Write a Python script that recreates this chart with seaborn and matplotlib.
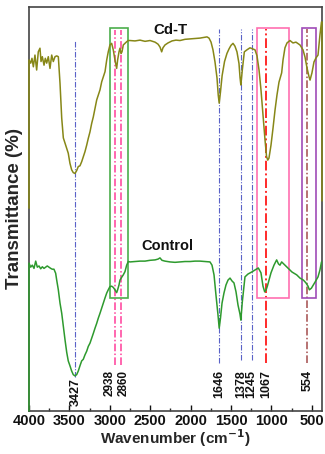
import numpy as np
import pandas as pd
import seaborn as sns
import matplotlib.pyplot as plt
from matplotlib.patches import Rectangle

# ---- data (wavenumber cm^-1, transmittance a.u.) ----
cdt_wn = [4000, 4000, 3979, 3963, 3946, 3926, 3905, 3885, 3864, 3851, 3835, 3814, 3798,
          3781, 3761, 3740, 3719, 3699, 3678, 3657, 3637, 3616, 3595, 3575, 3554, 3533,
          3514, 3493, 3472, 3452, 3431, 3410, 3390, 3369, 3348, 3328, 3307, 3286, 3266,
          3245, 3224, 3204, 3183, 3162, 3142, 3121, 3100, 3080, 3059, 3038, 3019, 2998,
          2977, 2957, 2936, 2915, 2903, 2886, 2874, 2861, 2849, 2833, 2812, 2791, 2771,
          2750, 2688, 2626, 2564, 2502, 2440, 2403, 2379, 2358, 2342, 2317, 2280, 2230,
          2181, 2131, 2069, 2007, 1945, 1884, 1822, 1797, 1772, 1747, 1723, 1698, 1673,
          1658, 1646, 1630, 1610, 1580, 1550, 1525, 1500, 1475, 1451, 1426, 1401, 1388,
          1378, 1360, 1335, 1302, 1265, 1228, 1203, 1178, 1153, 1129, 1104, 1079, 1060,
          1045, 1030, 1005, 980, 955, 931, 906, 873, 856, 832, 807, 770, 733, 696, 646,
          609, 584, 559, 534, 522, 498, 473, 448, 423, 399, 380, 374, 374]
cdt_t = [50.2, 86.9, 86.1, 87.3, 85.2, 88.1, 84.4, 88.9, 89.8, 86.5, 87.7, 85.6, 87.3,
         86.1, 87.7, 84.8, 88.1, 86.5, 87.7, 87.9, 87.7, 81.1, 72.5, 67.6, 66.3, 65.0,
         63.8, 61.3, 59.7, 59.0, 58.8, 59.5, 60.5, 60.7, 61.7, 62.9, 64.2, 65.8, 67.5,
         69.1, 71.2, 72.8, 74.9, 77.0, 78.2, 79.5, 81.5, 82.7, 84.0, 86.9, 88.9, 90.6,
         91.0, 89.4, 86.9, 84.8, 86.9, 88.9, 89.8, 88.5, 88.9, 90.6, 91.0, 91.4, 91.7,
         91.7, 91.6, 91.8, 91.5, 91.7, 91.3, 90.8, 90.1, 88.9, 89.9, 90.6, 91.1, 91.6,
         91.8, 91.7, 92.0, 92.1, 92.2, 92.3, 92.5, 92.6, 92.3, 91.3, 89.4, 86.4, 82.4,
         78.2, 76.2, 79.0, 83.0, 86.5, 88.5, 89.6, 90.5, 91.0, 90.3, 88.9, 86.0, 82.5,
         80.7, 84.4, 88.9, 89.4, 89.9, 89.6, 89.4, 87.9, 84.4, 79.5, 73.3, 67.1, 63.0,
         62.1, 62.6, 65.8, 70.0, 74.5, 78.2, 81.4, 83.7, 86.9, 89.9, 91.1, 91.7, 91.1,
         91.3, 90.6, 89.4, 87.6, 84.9, 82.7, 81.9, 83.7, 86.4, 87.4, 88.1, 93.1, 96.3,
         96.3, 52.0]

ctrl_wn = [4000, 4000, 3979, 3959, 3938, 3917, 3897, 3876, 3855, 3835, 3814, 3793, 3774,
           3752, 3731, 3712, 3691, 3670, 3657, 3637, 3616, 3595, 3575, 3554, 3533, 3514,
           3493, 3472, 3452, 3431, 3410, 3390, 3369, 3348, 3328, 3307, 3286, 3266, 3245,
           3224, 3204, 3183, 3162, 3142, 3121, 3100, 3080, 3059, 3038, 3019, 2998, 2977,
           2957, 2936, 2915, 2903, 2886, 2874, 2853, 2833, 2812, 2791, 2771, 2750, 2688,
           2626, 2564, 2502, 2440, 2403, 2379, 2354, 2317, 2255, 2193, 2131, 2069, 2007,
           1945, 1884, 1822, 1760, 1735, 1710, 1686, 1661, 1646, 1630, 1611, 1587, 1562,
           1537, 1512, 1488, 1463, 1438, 1413, 1389, 1378, 1360, 1327, 1290, 1244, 1203,
           1162, 1129, 1104, 1083, 1065, 1050, 1030, 1005, 968, 935, 912, 894, 873, 832,
           795, 745, 687, 646, 604, 572, 547, 530, 505, 460, 423, 399, 380]
ctrl_t = [0.0, 36.6, 35.6, 36.1, 35.3, 37.1, 35.6, 35.9, 35.2, 35.7, 35.3, 35.6, 35.9,
          35.6, 35.3, 35.1, 35.1, 34.1, 32.4, 30.0, 26.7, 24.2, 20.9, 17.6, 14.5, 12.4,
          11.2, 9.9, 9.0, 8.7, 9.0, 9.9, 11.2, 12.4, 12.8, 13.9, 14.8, 16.0, 16.8,
          18.0, 19.2, 20.5, 21.7, 23.0, 24.2, 25.5, 26.7, 28.0, 29.2, 30.0, 30.8, 30.9,
          30.6, 30.0, 29.3, 30.0, 31.2, 32.4, 33.1, 33.7, 34.5, 36.1, 37.0, 36.9, 37.0,
          37.1, 37.1, 37.3, 37.4, 37.6, 37.9, 37.3, 37.1, 36.9, 36.8, 36.9, 37.0, 37.0,
          37.1, 37.1, 37.0, 36.9, 36.1, 33.7, 28.7, 23.8, 20.5, 23.0, 26.7, 29.2, 31.2,
          32.4, 32.9, 32.2, 31.7, 29.5, 26.2, 24.0, 22.5, 27.0, 33.2, 33.9, 34.4, 34.9,
          35.4, 34.2, 30.9, 29.5, 30.0, 30.9, 32.4, 34.2, 36.1, 37.4, 36.4, 36.1, 36.9,
          36.1, 35.4, 34.4, 33.7, 32.9, 32.4, 31.7, 30.9, 30.0, 30.4, 31.9, 33.2, 34.9,
          36.9]

peak_wn = [3427, 2938, 2860, 1646, 1378, 1245, 1067, 554]
peak_labels = ['3427', '2938', '2860', '1646', '1378', '1245', '1067', '554']
label_wn = [3427, 3000, 2830, 1646, 1378, 1245, 1067, 554]
label_size = [9, 8.5, 8.5, 9, 9, 9, 9, 9]
peak_colors = ['#5a62c8', '#ff3d9a', '#ff3d9a', '#5a62c8', '#5a62c8', '#5a62c8', '#ff2a2a', '#a34c4c']
peak_top = [91.8, 94.3, 94.3, 94.6, 94.6, 94.6, 94.6, 94.6]
peak_bottom = [8.4, 11.4, 11.4, 11.9, 12.6, 12.6, 11.9, 11.9]

box_wn = [(3000, 2770), (1182, 778), (625, 448)]
box_colors = ['#4cae4c', '#ff6fb0', '#a04cb8']

# ---- plot ----
sns.set_theme(style='ticks')
plt.rcParams['font.family'] = ['Liberation Sans', 'DejaVu Sans']
plt.rcParams['font.weight'] = 'bold'

fig = plt.figure(figsize=(3.25, 4.54), dpi=100)
ax = fig.add_axes([0.0892, 0.0947, 0.9015, 0.8899])

cdt = pd.DataFrame({'wn': cdt_wn, 'T': cdt_t})
ctrl = pd.DataFrame({'wn': ctrl_wn, 'T': ctrl_t})
sns.lineplot(data=cdt, x='wn', y='T', sort=False, estimator=None, color='#878717',
             lw=1.1, ax=ax, zorder=3, clip_on=False)
sns.lineplot(data=ctrl, x='wn', y='T', sort=False, estimator=None, color='#2e9a2e',
             lw=1.1, ax=ax, zorder=3, clip_on=False)

# peak markers
for wn, lw_, fs, c, top, bot, lab in zip(peak_wn, label_wn, label_size, peak_colors,
                                         peak_top, peak_bottom, peak_labels):
    lw = 1.4 if c == '#ff2a2a' else (1.1 if c != '#5a62c8' else 0.8)
    ax.vlines(wn, bot, top, colors=c, lw=lw, linestyles=(0, (5, 1.5, 1, 1.5)), zorder=2)
    ytxt = 8.2 if lab == '3427' else 10.1
    ax.text(lw_, ytxt, lab, rotation=90, ha='center', va='top', fontsize=fs,
            fontweight='bold', color='#111111')

# highlight boxes
for (w0, w1), c in zip(box_wn, box_colors):
    ax.add_patch(Rectangle((w1, 28.0), w0 - w1, 94.7 - 28.0, fill=False,
                           edgecolor=c, lw=1.2, zorder=2.5))

ax.text(2255, 94.3, 'Cd-T', ha='center', va='center', fontsize=10.8, fontweight='bold', color='#111111')
ax.text(2286, 40.8, 'Control', ha='center', va='center', fontsize=10.5, fontweight='bold', color='#111111')

ax.set_xlim(4000, 374)
ax.set_ylim(0, 100)
ax.set_xticks([4000, 3500, 3000, 2500, 2000, 1500, 1000, 500])
ax.set_xticks(np.arange(3750, 374, -500), minor=True)
ax.set_yticks([])
ax.tick_params(axis='x', which='major', direction='in', length=4, width=1, pad=2,
               labelsize=10.5, colors='#111111')
ax.tick_params(axis='x', which='minor', direction='in', length=2.5, width=1)
for lbl in ax.get_xticklabels():
    lbl.set_fontweight('bold')
for s in ax.spines.values():
    s.set_color('#444444')
    s.set_linewidth(1.2)
    s.set_visible(True)

ax.set_xlabel('Wavenumber (cm$^{\\mathbf{-1}}$)', fontsize=11, fontweight='bold', labelpad=0)
ax.set_ylabel('Transmittance (%)', fontsize=13.5, fontweight='bold', labelpad=4)

fig.savefig('out.png', dpi=100)
